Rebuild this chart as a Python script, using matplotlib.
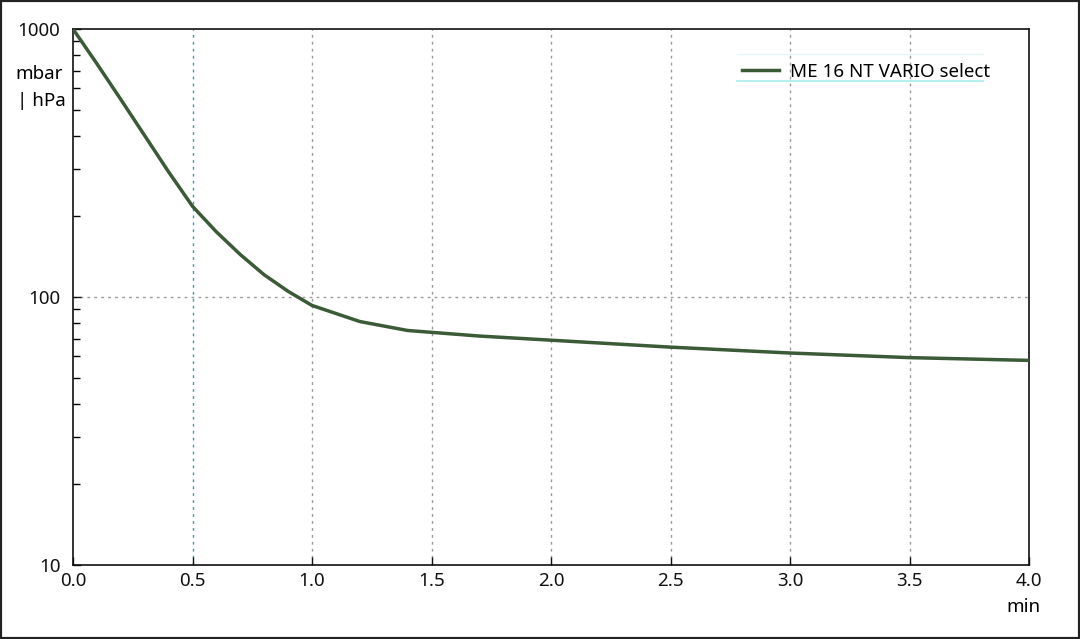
import matplotlib
matplotlib.use('Agg')
import matplotlib.pyplot as plt
from matplotlib.lines import Line2D
from matplotlib.patches import Rectangle
from matplotlib.ticker import LogLocator, NullFormatter, FixedLocator

plt.rcParams['font.family'] = ['Noto Sans', 'DejaVu Sans']

# pump-down curve
time_min = [0.0, 0.1, 0.2, 0.3, 0.4, 0.5, 0.6, 0.7, 0.8, 0.9, 1.0,
            1.2, 1.4, 1.7, 2.0, 2.5, 3.0, 3.5, 4.0]
pressure = [1000, 742, 546, 400, 293, 218, 175, 144, 121, 105, 93,
            81, 75, 71.5, 69, 65, 61.8, 59.4, 58]
series_name = 'ME 16 NT VARIO select'
x_ticks = [0.0, 0.5, 1.0, 1.5, 2.0, 2.5, 3.0, 3.5, 4.0]
y_ticks = [10, 100, 1000]

line_col = '#3b5a37'

fig = plt.figure(figsize=(10.8, 6.39), dpi=100)
ax = fig.add_axes([73/1080, 1 - 565/639, (1029 - 73)/1080, (565 - 29)/639])

ax.plot(time_min, pressure, color=line_col, lw=2.5, label=series_name,
        solid_joinstyle='round', zorder=3)

ax.set_yscale('log')
ax.set_xlim(0, 4)
ax.set_ylim(10, 1000)

ax.xaxis.set_major_locator(FixedLocator(x_ticks))
ax.set_xticklabels([f'{v:.1f}' for v in x_ticks])
ax.yaxis.set_major_locator(FixedLocator(y_ticks))
ax.set_yticklabels([str(v) for v in y_ticks])
ax.yaxis.set_minor_locator(LogLocator(base=10, subs=range(2, 10)))
ax.yaxis.set_minor_formatter(NullFormatter())

ax.tick_params(axis='both', which='major', direction='in', length=6,
               width=1, labelsize=13.5, colors='#111111')
ax.tick_params(axis='x', which='major', pad=5)
ax.tick_params(axis='y', which='major', pad=9)
ax.tick_params(axis='y', which='minor', direction='in', length=5, width=1)

for s in ax.spines.values():
    s.set_color('#111111')
    s.set_linewidth(1.2)

# grid
for xv in x_ticks[1:-1]:
    c = '#3c9aa8' if xv == 0.5 else '#9a9a9a'
    ax.axvline(xv, color=c, lw=1, ls=(0, (2, 3)), zorder=1)
ax.axhline(100, color='#9a9a9a', lw=1, ls=(0, (2, 3)), zorder=1)

fig.text(15/1080, 1 - 74/639, 'mbar', fontsize=13.5, va='center', ha='left')
fig.text(17/1080, 1 - 101/639, '| hPa', fontsize=13.5, va='center', ha='left')
fig.text(1041/1080, 1 - 607/639, 'min', fontsize=13.5, va='center', ha='right')

leg = ax.legend(loc='upper left', bbox_to_anchor=(0.682, 0.968), frameon=False,
                fontsize=13.5, handlelength=2.0, handletextpad=0.55)
fig.add_artist(Line2D([737/1080, 983/1080], [1 - 81/639, 1 - 81/639],
                      color='#a8ecec', lw=1.2))
fig.add_artist(Line2D([737/1080, 983/1080], [1 - 54/639, 1 - 54/639],
                      color='#e4f8f6', lw=1.0))

# outer frame
fig.patches.append(Rectangle((0, 0), 1, 1, transform=fig.transFigure,
                             fill=False, edgecolor='#222222', lw=3))

fig.savefig('out.png', dpi=100)
